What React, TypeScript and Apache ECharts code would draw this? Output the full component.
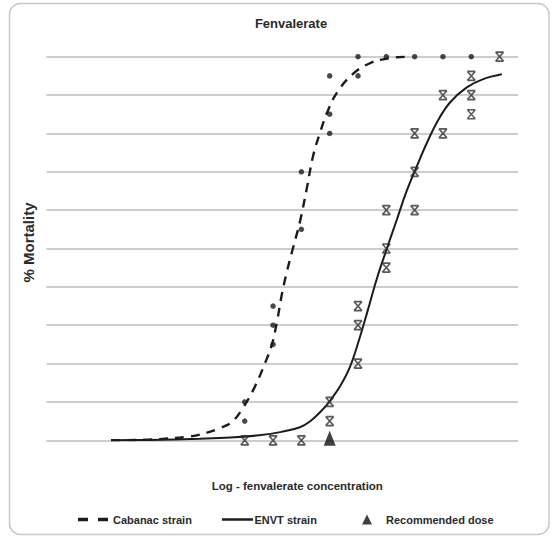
import React, { useEffect, useRef } from "react";
import * as echarts from "echarts";

// Observations: [log-dose step, % mortality]
const cabanacPoints: number[][] = [
  [7, 10], [7, 5], [8, 35], [8, 30], [8, 25], [9, 70], [9, 55],
  [10, 95], [10, 85], [10, 80], [11, 100], [11, 95], [12, 100],
  [13, 100], [14, 100], [15, 100],
];
const envtPoints: number[][] = [
  [7, 0], [8, 0], [9, 0], [10, 10], [10, 5], [11, 35], [11, 30], [11, 20],
  [12, 60], [12, 50], [12, 45], [13, 80], [13, 70], [13, 60], [14, 90],
  [14, 80], [15, 95], [15, 90], [15, 85], [16, 100],
];
const recommendedDose: number[][] = [[10, 0]];

// Fitted curves
const cabanacCurve: number[][] = [
  [2.28, 0], [3.65, 0.2], [5.07, 1], [5.67, 2], [6.12, 3.2], [6.55, 4.8],
  [6.94, 8.5], [7.36, 14], [7.71, 20], [7.96, 25], [8.14, 31], [8.31, 38],
  [8.49, 44], [8.7, 50], [8.95, 57], [9.2, 66], [9.41, 74], [9.65, 80],
  [9.94, 86], [10.29, 91], [10.82, 95.5], [11.42, 98.3], [12.02, 99.5],
  [12.65, 100],
];
const envtCurve: number[][] = [
  [2.28, 0], [3.65, 0.1], [5.42, 0.4], [6.5, 0.7], [7.5, 1.3], [8.3, 2.2],
  [8.95, 3.4], [9.3, 4.9], [9.66, 7.3], [10.01, 10.3], [10.36, 14], [10.71, 19],
  [11.03, 26], [11.35, 34], [11.66, 42], [12.02, 50], [12.37, 57.5], [12.72, 65],
  [13.08, 71.5], [13.43, 77.5], [13.78, 82.8], [14.24, 88], [14.84, 92],
  [15.4, 94.1], [16.08, 95.4],
];

const TITLE = "Fenvalerate";
const X_NAME = "Log - fenvalerate concentration";
const Y_NAME = "% Mortality";
const NAMES = ["Cabanac strain", "ENVT strain", "Recommended dose"];

const FONT = '"Liberation Sans", Arial, sans-serif';
const INK = "#1c1c1c";
const TXT = "#2a2a2a";
const XMARK = "path://M0,0 L10,0 M0,11 L10,11 M0,0 L10,11 M10,0 L0,11";
const DASH_ICON = "path://M0,0 L10,0 L10,3.5 L0,3.5 Z M20,0 L30,0 L30,3.5 L20,3.5 Z";
const SOLID_ICON = "path://M0,0 L31,0 L31,2.5 L0,2.5 Z";

export default function App() {
  const ref = useRef<HTMLDivElement>(null);
  useEffect(() => {
    if (!ref.current) return;
    const chart = echarts.init(ref.current, undefined, { renderer: "svg" });
    const legendText = { fontFamily: FONT, fontSize: 11, fontWeight: "bold", color: TXT };
    chart.setOption({
      animation: false,
      backgroundColor: "#ffffff",
      title: {
        text: TITLE,
        left: 286,
        top: 12,
        textAlign: "center",
        textStyle: { fontFamily: FONT, fontSize: 13, fontWeight: "bold", color: TXT },
      },
      graphic: [
        {
          type: "rect",
          shape: { x: 9.5, y: 3.5, width: 539.5, height: 531, r: 11 },
          style: { fill: "none", stroke: "#c9c9c9", lineWidth: 1.5 },
          silent: true,
          z: -1,
        },
      ],
      legend: [
        {
          data: [{ name: NAMES[0], icon: DASH_ICON }],
          left: 73,
          top: 509,
          itemWidth: 30,
          itemHeight: 3.5,
          textStyle: legendText,
        },
        {
          data: [{ name: NAMES[1], icon: SOLID_ICON }],
          left: 217,
          top: 509,
          itemWidth: 32,
          itemHeight: 2.5,
          textStyle: { ...legendText, padding: [0, 0, 0, -4] },
        },
        {
          data: [{ name: NAMES[2], icon: "triangle" }],
          left: 357,
          top: 509,
          itemWidth: 10,
          itemHeight: 10,
          textStyle: { ...legendText, padding: [0, 0, 0, 9] },
        },
      ],
      grid: { left: 46.5, right: 35, top: 56.7, bottom: 97.7 },
      xAxis: {
        type: "value",
        min: 0,
        max: 16.65,
        name: X_NAME,
        nameLocation: "middle",
        nameGap: 40,
        nameTextStyle: { fontFamily: FONT, fontSize: 11.5, fontWeight: "bold", color: TXT, padding: [0, 0, 0, 30] },
        axisLine: { show: false },
        axisTick: { show: false },
        axisLabel: { show: false },
        splitLine: { show: false },
      },
      yAxis: {
        type: "value",
        min: 0,
        max: 100,
        interval: 10,
        name: Y_NAME,
        nameLocation: "middle",
        nameGap: 11,
        nameRotate: 90,
        nameTextStyle: { fontFamily: FONT, fontSize: 15, fontWeight: "bold", color: TXT, padding: [0, 0, 0, 12] },
        axisLine: { show: false },
        axisTick: { show: false },
        axisLabel: { show: false },
        splitLine: { show: true, lineStyle: { color: "#bdbdbd", width: 1.6 } },
      },
      series: [
        {
          name: NAMES[0],
          type: "line",
          data: cabanacCurve,
          smooth: 0.4,
          symbol: "none",
          lineStyle: { color: INK, width: 2.4, type: [9, 7] },
          itemStyle: { color: INK },
          z: 2,
        },
        {
          name: NAMES[1],
          type: "line",
          data: envtCurve,
          smooth: 0.4,
          symbol: "none",
          lineStyle: { color: INK, width: 2 },
          itemStyle: { color: INK },
          z: 2,
        },
        {
          name: "Cabanac obs",
          type: "scatter",
          data: cabanacPoints,
          symbol: "circle",
          symbolSize: 5.5,
          itemStyle: { color: INK },
          z: 3,
        },
        {
          name: "ENVT obs",
          type: "scatter",
          data: envtPoints,
          symbol: XMARK,
          symbolSize: [8, 9],
          itemStyle: { color: "none", borderColor: "#303030", borderWidth: 1.6 },
          z: 3,
        },
        {
          name: NAMES[2],
          type: "scatter",
          data: recommendedDose,
          symbol: "triangle",
          symbolSize: [12, 15],
          symbolOffset: [0, -2],
          itemStyle: { color: "#111" },
          z: 4,
        },
      ],
    });
    return () => chart.dispose();
  }, []);
  return (
    <div
      ref={ref}
      style={{ position: "fixed", left: 0, top: 0, width: 553, height: 538, background: "#fff" }}
    />
  );
}
